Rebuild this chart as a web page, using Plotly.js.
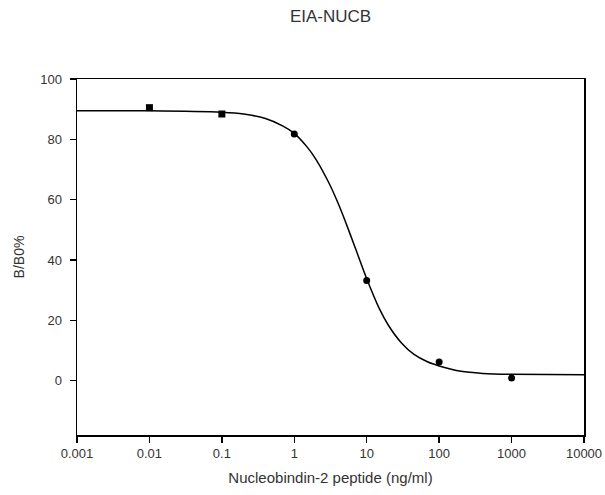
<!DOCTYPE html>
<html>
<head>
<meta charset="utf-8">
<script src="https://cdn.plot.ly/plotly-3.0.1.min.js"></script>
<style>
  html, body { margin: 0; padding: 0; background: #fff; }
  #chart { width: 605px; height: 495px; }
</style>
</head>
<body>
<div id="chart"></div>
<script>
// Measured points (concentration, B/B0%)
var concentration = [0.01, 0.1, 1, 10, 100, 1000];
var bb0 = [90.5, 88.4, 81.8, 33.2, 6.2, 0.9];
var markerSymbols = ['square', 'square', 'circle', 'circle', 'circle', 'circle'];

// Fitted curve
var curveX = [0.001, 0.01, 0.1, 0.2, 0.4, 0.7, 1, 1.5, 2, 3, 4, 5, 7, 10, 15, 20, 30, 45, 70, 100, 200, 400, 1000, 10000];
var curveY = [89.5, 89.5, 89.0, 88.4, 86.9, 84.4, 82.0, 77.5, 73.3, 65.6, 59.0, 53.2, 43.8, 33.8, 23.8, 18.3, 12.6, 8.7, 6.2, 4.9, 3.1, 2.4, 2.1, 2.0];

// Axis ticks
var xTickVals = [0.001, 0.01, 0.1, 1, 10, 100, 1000, 10000];
var xTickText = ['0.001', '0.01', '0.1', '1', '10', '100', '1000', '10000'];
var yTickVals = [0, 20, 40, 60, 80, 100];

var FONT = '"Liberation Sans", Arial, sans-serif';
var TXT = '#333333';

var traces = [
  {
    x: curveX, y: curveY, type: 'scatter', mode: 'lines',
    line: { color: '#000', width: 1.5, shape: 'spline', smoothing: 0.6 },
    hoverinfo: 'skip', showlegend: false
  },
  {
    x: concentration, y: bb0, type: 'scatter', mode: 'markers',
    marker: { color: '#000', size: 7, symbol: markerSymbols },
    showlegend: false
  }
];

var layout = {
  width: 605, height: 495,
  margin: { l: 77, r: 21, t: 79, b: 60, pad: 0 },
  paper_bgcolor: '#fff', plot_bgcolor: '#fff',
  font: { family: FONT, color: TXT, size: 13 },
  title: {
    text: 'EIA-NUCB',
    font: { family: FONT, size: 17, color: TXT },
    x: 0.5, xref: 'paper', xanchor: 'center',
    y: 1 - 16 / 495, yref: 'container', yanchor: 'middle'
  },
  xaxis: {
    type: 'log', range: [-3, 4],
    tickmode: 'array', tickvals: xTickVals, ticktext: xTickText,
    ticks: 'outside', ticklen: 6, tickwidth: 1.5, tickcolor: '#000',
    showline: true, linecolor: '#000', linewidth: 1.5, mirror: true,
    showgrid: false, zeroline: false,
    tickfont: { family: FONT, size: 13, color: TXT },
    title: { text: 'Nucleobindin-2 peptide (ng/ml)', font: { family: FONT, size: 15, color: TXT }, standoff: 12 },
    automargin: false
  },
  yaxis: {
    range: [-18, 100],
    tickmode: 'array', tickvals: yTickVals,
    ticks: 'outside', ticklen: 6, tickwidth: 1.5, tickcolor: '#000',
    ticklabelstandoff: 5,
    showline: true, linecolor: '#000', linewidth: 1.5, mirror: true,
    showgrid: false, zeroline: false,
    tickfont: { family: FONT, size: 13, color: TXT },
    title: { text: 'B/B0%', font: { family: FONT, size: 14, color: TXT }, standoff: 12 },
    automargin: false
  }
};

Plotly.newPlot('chart', traces, layout, { displayModeBar: false, staticPlot: true });
</script>
</body>
</html>
